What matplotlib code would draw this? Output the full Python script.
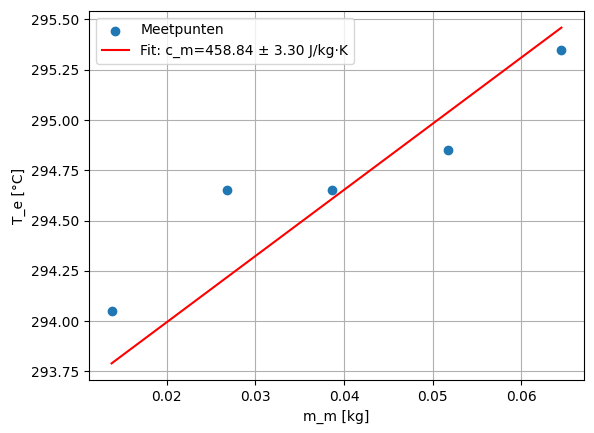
import matplotlib.pyplot as plt
import numpy as np

# measured points
m_m = [0.0138, 0.0268, 0.0386, 0.0517, 0.0645]
T_e = [294.05, 294.65, 294.65, 294.85, 295.35]

# fit result (intercept, slope)
fit_a = 293.335
fit_b = 32.94
c_m = 458.84
c_m_err = 3.30

x = np.array(m_m)

fig = plt.figure(figsize=(5.94, 4.33), dpi=100)
ax = fig.add_subplot(111)
fig.subplots_adjust(left=0.150, right=0.983, top=0.975, bottom=0.122)

ax.scatter(m_m, T_e, label="Meetpunten")
ax.plot(x, fit_a + fit_b * x, color="red",
        label=f"Fit: c_m={c_m:.2f} ± {c_m_err:.2f} J/kg·K")
ax.set_xlabel("m_m [kg]")
ax.set_ylabel("T_e [°C]")
ax.legend()
ax.grid(True)

plt.savefig("out.png", dpi=100)
